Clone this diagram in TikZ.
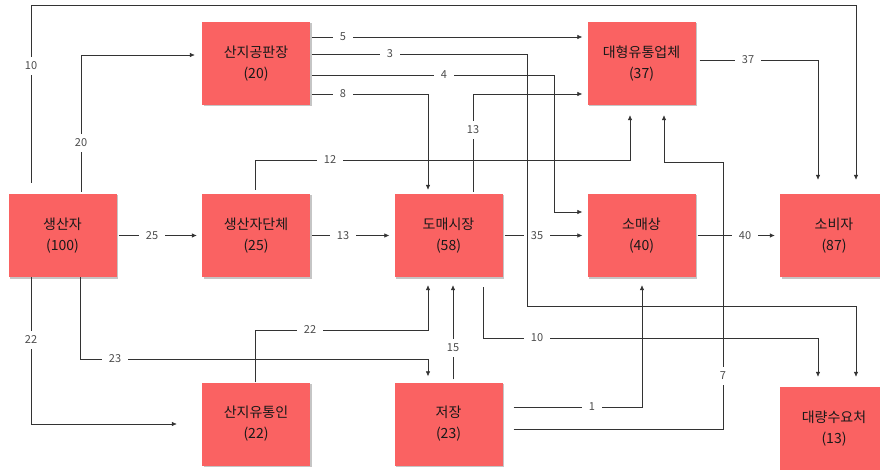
\documentclass[tikz,border=0pt]{standalone}
\usepackage{fontspec}
\setmainfont{Noto Sans CJK KR}
\usetikzlibrary{shadows}
\usetikzlibrary{arrows.meta}
\definecolor{boxred}{RGB}{250,98,98}
\colorlet{wire}{black!80}
\colorlet{numgray}{black!70}
\begin{document}
\begin{tikzpicture}[x=1pt,y=-1pt,
    box/.style={fill=boxred,minimum width=108pt,minimum height=83pt,inner sep=0pt,
        align=center,text=black!90,font=\fontsize{14}{21}\selectfont,
        drop shadow={shadow xshift=1.5pt,shadow yshift=-1.5pt,fill=black!45,opacity=0.5}},
    flow/.style={wire,line width=0.6pt,-{Latex[length=5pt,width=4.5pt]},
        shorten <=2pt,shorten >=5pt},
    num/.style={fill=white,text=numgray,inner xsep=7pt,inner ysep=5pt,
        font=\fontsize{11}{12}\selectfont}]
\useasboundingbox (0,0) rectangle (880,470);
% boxes
\node[box] (prod) at (62.5,235.5) {생산자\\(100)};
\node[box] (sanji) at (256,63.5) {산지공판장\\(20)};
\node[box] (group) at (256,235.5) {생산자단체\\(25)};
\node[box] (whole) at (448.5,235.5) {도매시장\\(58)};
\node[box] (large) at (641.5,63.5) {대형유통업체\\(37)};
\node[box] (retail) at (641.5,235.5) {소매상\\(40)};
\node[box] (consumer) at (834,235.5) {소비자\\(87)};
\node[box] (trader) at (256,424) {산지유통인\\(22)};
\node[box] (store) at (448.5,424) {저장\\(23)};
\node[box] (bulk) at (834,428.5) {대량수요처\\(13)};
% middle row
\draw[flow] (prod.east) -- (group.west);
\node[num] (n25) at (152,236) {25};
\draw[flow] (group.east) -- (whole.west);
\node[num] (n13a) at (343,236) {13};
\draw[flow] (whole.east) -- (retail.west);
\node[num] (n35) at (537,236) {35};
\draw[flow] (retail.east) -- (consumer.west);
\node[num] (n40) at (745,236) {40};
% from the producer
\draw[flow,shorten <=11pt,shorten >=14pt] (prod.north -| 31,0) -- (31,5) -| (consumer.north -| 856,0);
\node[num] (n10a) at (31,66) {10};
\draw[flow,shorten >=7pt] (prod.north -| 81,0) |- (sanji.west |- 0,55);
\node[num] (n20) at (81,143) {20};
\draw[flow,shorten <=0pt,shorten >=6pt] (prod.south -| 80,0) |- (428,359) -- (store.north -| 428,0);
\node[num] (n23) at (115,359) {23};
\draw[flow,shorten <=0pt,shorten >=25pt] (prod.south -| 31,0) |- (trader.west |- 0,424);
\node[num] (n22a) at (31,340) {22};
% from the auction market
\draw[flow] (sanji.east |- 0,37) -- (large.west |- 0,37);
\node[num] (n5) at (343,37) {5};
\draw[flow] (sanji.east |- 0,75) -| (554,212) -- (retail.west |- 0,212);
\node[num] (n4) at (444,75) {4};
\draw[flow,shorten >=4pt] (sanji.east |- 0,94) -| (whole.north -| 428,0);
\node[num] (n8) at (343,94) {8};
\draw[flow,shorten >=10pt] (sanji.east |- 0,54) -| (527,306) -| (bulk.north -| 856,0);
\node[num] (n3) at (390,54) {3};
% to the large retailers
\draw[flow,shorten <=4pt,shorten >=10pt] (group.north -| 255,0) |- (630,160) -- (large.south -| 630,0);
\node[num] (n12) at (330,160) {12};
\draw[flow] (whole.north -| 473,0) |- (large.west |- 0,94);
\node[num] (n13b) at (473,130) {13};
\draw[flow,shorten <=4pt,shorten >=14pt] (large.east |- 0,60) -| (consumer.north -| 818,0);
\node[num] (n37) at (748,60) {37};
% below the market
\draw[flow,shorten <=10pt,shorten >=10pt] (whole.south -| 483,0) |- (818,338) -- (bulk.north -| 818,0);
\node[num] (n10b) at (537,338) {10};
\draw[flow,shorten <=0pt,shorten >=8pt] (trader.north -| 255,0) |- (428,330) -- (whole.south -| 428,0);
\node[num] (n22b) at (310,330) {22};
\draw[flow,shorten <=3pt,shorten >=8pt] (store.north -| 453,0) -- (whole.south -| 453,0);
\node[num] (n15) at (453,348) {15};
\draw[flow,shorten <=11pt,shorten >=8pt] (store.east |- 0,407) -| (retail.south -| 642,0);
\node[num] (n1) at (592,407) {1};
\draw[flow,shorten <=11pt,shorten >=10pt] (store.east |- 0,429) -| (723,162) -| (large.south -| 664,0);
\node[num] (n7) at (723,376) {7};
\end{tikzpicture}
\end{document}
